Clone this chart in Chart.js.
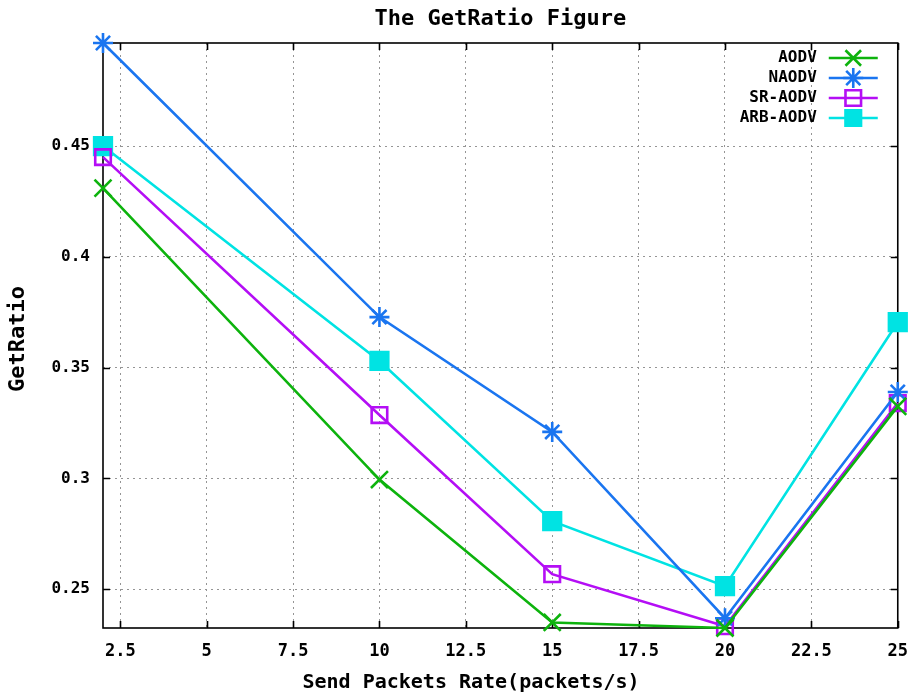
<!DOCTYPE html>
<html>
<head>
<meta charset="utf-8">
<script src="https://cdn.jsdelivr.net/npm/chart.js@4.4.1/dist/chart.umd.min.js"></script>
<style>
html,body{margin:0;padding:0;background:#fff;}
#wrap{width:921px;height:694px;}
</style>
</head>
<body>
<div id="wrap"><canvas id="c" width="921" height="694"></canvas></div>
<script>
// ---- data ----
const xValues = [2, 10, 15, 20, 25];
const aodv    = [0.431, 0.2995, 0.235, 0.2325, 0.3325];
const naodv   = [0.4965, 0.3728, 0.321, 0.2369, 0.339];
const srAodv  = [0.445, 0.3286, 0.2568, 0.2333, 0.334];
const arbAodv = [0.450, 0.353, 0.2807, 0.2514, 0.3705];
const seriesNames = ['AODV', 'NAODV', 'SR-AODV', 'ARB-AODV'];
const xTickValues = [2.5, 5, 7.5, 10, 12.5, 15, 17.5, 20, 22.5, 25];
const xTickLabels = ['2.5', '5', '7.5', '10', '12.5', '15', '17.5', '20', '22.5', '25'];
const yTickValues = [0.25, 0.3, 0.35, 0.4, 0.45];
const yTickLabels = ['0.25', '0.3', '0.35', '0.4', '0.45'];
const titleText = 'The GetRatio Figure';
const xTitle = 'Send Packets Rate(packets/s)';
const yTitle = 'GetRatio';

const colors = ['#0db30d', '#1a75f0', '#b40ef5', '#00e3e3'];
const styles = [
  {pointStyle: 'crossRot', radius: 12, fill: false},
  {pointStyle: 'star', radius: 10, fill: false},
  {pointStyle: 'rect', radius: 11, fill: false},
  {pointStyle: 'rect', radius: 12.5, fill: true}
];
const allSeries = [aodv, naodv, srAodv, arbAodv];

const FONT = '"DejaVu Sans Mono", "Liberation Mono", monospace';
const LW = 2.6;

const datasets = allSeries.map((vals, i) => ({
  label: seriesNames[i],
  data: xValues.map((x, j) => ({x: x, y: vals[j]})),
  borderColor: colors[i],
  backgroundColor: styles[i].fill ? colors[i] : 'rgba(0,0,0,0)',
  pointBorderColor: colors[i],
  pointBackgroundColor: styles[i].fill ? colors[i] : 'rgba(0,0,0,0)',
  borderWidth: LW,
  pointBorderWidth: LW,
  pointStyle: styles[i].pointStyle,
  pointRadius: styles[i].radius,
  pointHoverRadius: styles[i].radius,
  tension: 0,
  clip: false,
  fill: false
}));

function drawMarker(ctx, style, color, x, y) {
  const r = style.radius;
  ctx.save();
  ctx.strokeStyle = color;
  ctx.fillStyle = color;
  ctx.lineWidth = LW;
  ctx.beginPath();
  if (style.pointStyle === 'crossRot' || style.pointStyle === 'star') {
    const d = r * Math.SQRT1_2;
    ctx.moveTo(x - d, y - d); ctx.lineTo(x + d, y + d);
    ctx.moveTo(x - d, y + d); ctx.lineTo(x + d, y - d);
    if (style.pointStyle === 'star') {
      ctx.moveTo(x - r, y); ctx.lineTo(x + r, y);
      ctx.moveTo(x, y - r); ctx.lineTo(x, y + r);
    }
    ctx.stroke();
  } else {
    const s = r * Math.SQRT1_2;
    ctx.rect(x - s, y - s, 2 * s, 2 * s);
    if (style.fill) ctx.fill();
    ctx.stroke();
  }
  ctx.restore();
}

const framePlugin = {
  id: 'frame',
  beforeDatasetsDraw(chart) {
    const {ctx, chartArea: ca} = chart;
    const xs = chart.scales.x, ys = chart.scales.y;
    ctx.save();
    ctx.strokeStyle = '#000';
    ctx.lineWidth = 1.6;
    ctx.strokeRect(ca.left, ca.top, ca.right - ca.left, ca.bottom - ca.top);
    ctx.beginPath();
    xTickValues.forEach(v => {
      const px = Math.round(xs.getPixelForValue(v)) + 0.5;
      ctx.moveTo(px, ca.bottom); ctx.lineTo(px, ca.bottom - 7);
      ctx.moveTo(px, ca.top); ctx.lineTo(px, ca.top + 7);
    });
    yTickValues.forEach(v => {
      const py = Math.round(ys.getPixelForValue(v)) + 0.5;
      ctx.moveTo(ca.left, py); ctx.lineTo(ca.left + 7, py);
      ctx.moveTo(ca.right, py); ctx.lineTo(ca.right - 7, py);
    });
    ctx.stroke();
    ctx.restore();
  },
  afterDraw(chart) {
    const {ctx, chartArea: ca} = chart;
    ctx.save();
    // titles
    ctx.fillStyle = '#000';
    ctx.textAlign = 'center';
    ctx.textBaseline = 'middle';
    ctx.font = 'bold 22px ' + FONT;
    ctx.fillText(titleText, (ca.left + ca.right) / 2, 19);
    ctx.font = 'bold 20px ' + FONT;
    ctx.fillText(xTitle, 471, 683);
    ctx.save();
    ctx.translate(18, 339);
    ctx.rotate(-Math.PI / 2);
    ctx.font = 'bold 22px ' + FONT;
    ctx.fillText(yTitle, 0, 0);
    ctx.restore();
    // legend
    ctx.font = 'bold 16px ' + FONT;
    ctx.textAlign = 'right';
    ctx.textBaseline = 'middle';
    chart.data.datasets.forEach((ds, i) => {
      const y = ca.top + 15 + i * 20;
      const tx = ca.right - 81;
      const lx1 = ca.right - 69, lx2 = ca.right - 20;
      ctx.fillStyle = '#000';
      ctx.fillText(ds.label, tx, y);
      ctx.strokeStyle = colors[i];
      ctx.lineWidth = LW;
      ctx.beginPath();
      ctx.moveTo(lx1, y); ctx.lineTo(lx2, y);
      ctx.stroke();
      const st = Object.assign({}, styles[i]);
      st.radius = Math.min(st.radius, 11);
      drawMarker(ctx, st, colors[i], (lx1 + lx2) / 2, y);
    });
    ctx.restore();
  }
};

new Chart(document.getElementById('c'), {
  type: 'line',
  data: {datasets: datasets},
  plugins: [framePlugin],
  options: {
    responsive: false,
    animation: false,
    events: [],
    layout: {padding: {left: 0, right: 21, top: 43, bottom: 0}},
    plugins: {
      legend: {display: false},
      tooltip: {enabled: false},
      title: {display: false}
    },
    scales: {
      x: {
        type: 'linear',
        min: 2,
        max: 25,
        afterBuildTicks: s => { s.ticks = xTickValues.map(v => ({value: v})); },
        afterFit: s => { s.height = 66; },
        ticks: {
          color: '#000',
          font: {family: FONT, size: 17, weight: 'bold'},
          padding: 13,
          maxRotation: 0,
          autoSkip: false,
          callback: (v) => { const k = xTickValues.indexOf(v); return k >= 0 ? xTickLabels[k] : ''; }
        },
        grid: {color: '#959595', lineWidth: 1, drawTicks: false},
        border: {display: false, dash: [2, 4]},
        title: {display: false}
      },
      y: {
        type: 'linear',
        min: 0.2325,
        max: 0.4965,
        afterBuildTicks: s => { s.ticks = yTickValues.map(v => ({value: v})); },
        afterFit: s => { s.width = 103; },
        ticks: {
          color: '#000',
          font: {family: FONT, size: 16, weight: 'bold'},
          padding: 13,
          autoSkip: false,
          callback: (v) => { const k = yTickValues.findIndex(t => Math.abs(t - v) < 1e-9); return k >= 0 ? yTickLabels[k] : ''; }
        },
        grid: {color: '#959595', lineWidth: 1, drawTicks: false},
        border: {display: false, dash: [2, 4]},
        title: {display: false}
      }
    }
  }
});
</script>
</body>
</html>
